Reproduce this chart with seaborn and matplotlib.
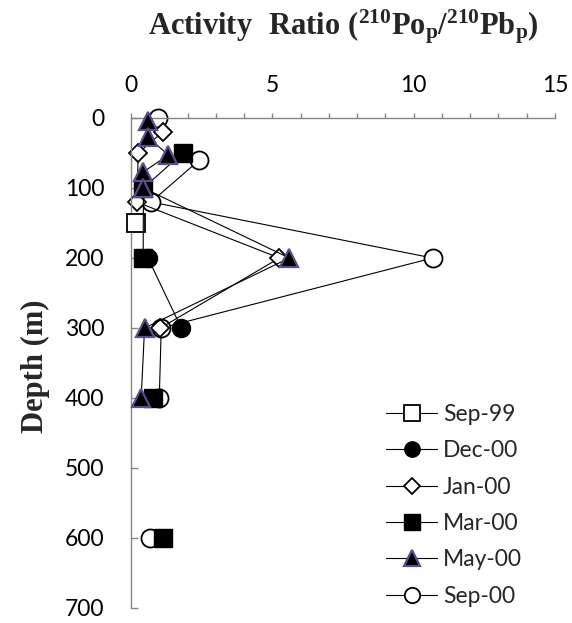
import numpy as np
import pandas as pd
import matplotlib
matplotlib.use("Agg")
import matplotlib.pyplot as plt
from matplotlib.lines import Line2D
from matplotlib.ticker import MultipleLocator
import seaborn as sns

# Particulate 210Po/210Pb activity ratios versus depth, per sampling cruise.
# NaN marks a depth with no sample, which breaks the profile line.
series_names = ["Sep-99", "Dec-00", "Jan-00", "Mar-00", "May-00", "Sep-00"]

sep99_depth = [150]
sep99_ratio = [0.16]

dec00_depth = [200, 300]
dec00_ratio = [0.60, 1.78]

jan00_depth = [20, 50, 120, 200, 300]
jan00_ratio = [1.12, 0.26, 0.20, 5.25, 1.04]

mar00_depth = [50, 100, 200, 300, 400, 500, 600]
mar00_ratio = [1.83, 0.44, 0.43, np.nan, 0.79, np.nan, 1.12]

may00_depth = [5, 27, 53, 77, 100, 200, 300, 400]
may00_ratio = [0.60, 0.60, 1.32, 0.44, 0.44, 5.60, 0.48, 0.36]

sep00_depth = [0, 30, 60, 120, 200, 300, 400, 500, 600]
sep00_ratio = [0.95, np.nan, 2.42, 0.71, 10.67, 1.07, 1.00, np.nan, 0.67]

x_ticks = [0, 5, 10, 15]
y_ticks = [0, 100, 200, 300, 400, 500, 600, 700]

PURPLE = "#5f4b8b"
GREY = "#868686"
LABEL_SIZE = 16.5

styles = {
    "Sep-99": dict(marker="s", ms=13.5, mfc="white", mec="black", mew=1.3, z=4),
    "Dec-00": dict(marker="o", ms=13, mfc="black", mec="black", mew=1.0, z=3),
    "Jan-00": dict(marker="D", ms=9.2, mfc="white", mec="black", mew=1.3, z=2),
    "Mar-00": dict(marker="s", ms=13, mfc="black", mec="black", mew=1.0, z=5),
    "May-00": dict(marker="^", ms=13.5, mfc="black", mec=PURPLE, mew=1.6, z=6),
    "Sep-00": dict(marker="o", ms=13, mfc="white", mec="black", mew=1.3, z=1),
}

data = {
    "Sep-99": (sep99_depth, sep99_ratio),
    "Dec-00": (dec00_depth, dec00_ratio),
    "Jan-00": (jan00_depth, jan00_ratio),
    "Mar-00": (mar00_depth, mar00_ratio),
    "May-00": (may00_depth, may00_ratio),
    "Sep-00": (sep00_depth, sep00_ratio),
}


def to_frame(name, depth, ratio):
    """Long table with a segment id so that gaps (NaN) split the line."""
    df = pd.DataFrame({"depth": depth, "ratio": ratio})
    df["seg"] = df["ratio"].isna().cumsum()
    df = df.dropna().reset_index(drop=True)
    df["series"] = name
    return df


sns.set_theme(style="white")
plt.rcParams["font.family"] = ["Lato", "DejaVu Sans"]
plt.rcParams["mathtext.fontset"] = "custom"
plt.rcParams["mathtext.rm"] = "Liberation Serif:bold"
plt.rcParams["mathtext.it"] = "Liberation Serif:bold"
plt.rcParams["mathtext.bf"] = "Liberation Serif:bold"

W, H = 572, 623
fig = plt.figure(figsize=(W / 100, H / 100), dpi=100)
ax = fig.add_axes([131 / W, 1 - 608 / H, (555 - 131) / W, (608 - 118) / H])

for name in series_names:
    depth, ratio = data[name]
    df = to_frame(name, depth, ratio)
    st = styles[name]
    sns.lineplot(
        data=df, x="ratio", y="depth", units="seg", estimator=None,
        sort=False, orient="y", ax=ax, color="black", lw=0.8,
        marker=st["marker"], markersize=st["ms"], markerfacecolor=st["mfc"],
        markeredgecolor=st["mec"], markeredgewidth=st["mew"],
        zorder=st["z"], clip_on=False, legend=False,
    )

ax.set_xlim(0, 15)
ax.set_ylim(700, 0)
ax.set_xticks(x_ticks)
ax.set_yticks(y_ticks)
ax.xaxis.set_minor_locator(MultipleLocator(1))
ax.xaxis.tick_top()
ax.set_xlabel("")
ax.set_ylabel("")

for side in ["right", "bottom"]:
    ax.spines[side].set_visible(False)
for side in ["left", "top"]:
    ax.spines[side].set_color(GREY)
    ax.spines[side].set_linewidth(1.0)

ax.tick_params(axis="x", which="both", direction="out", length=3.6,
               width=1.0, color=GREY, top=True, bottom=False,
               labelsize=LABEL_SIZE, pad=12, labelcolor="black")
ax.tick_params(axis="y", which="major", direction="in", length=5,
               width=1.0, color=GREY, left=True, labelsize=LABEL_SIZE,
               pad=19, labelcolor="black")

fig.text(343 / W, 1 - 35 / H,
         r"$\mathrm{Activity\ \ Ratio\ (^{210}Po_{p}/^{210}Pb_{p})}$",
         ha="center", va="baseline", fontsize=22)
fig.text(35 / W, 1 - 366 / H, "Depth (m)", rotation=90, ha="center",
         va="center", fontsize=22, fontweight="bold",
         family="Liberation Serif")

handles = []
for name in series_names:
    st = styles[name]
    handles.append(Line2D([], [], color="black", lw=0.8, marker=st["marker"],
                          markersize=st["ms"] * 0.85, markerfacecolor=st["mfc"],
                          markeredgecolor=st["mec"],
                          markeredgewidth=st["mew"]))
ax.legend(handles, series_names, loc="upper left",
          bbox_to_anchor=(386 / W, 1 - 404 / H),
          bbox_transform=fig.transFigure, frameon=False, fontsize=LABEL_SIZE,
          handlelength=2.23, handletextpad=0.26, labelspacing=0.67,
          borderpad=0, borderaxespad=0)

fig.savefig("out.png", dpi=100)
